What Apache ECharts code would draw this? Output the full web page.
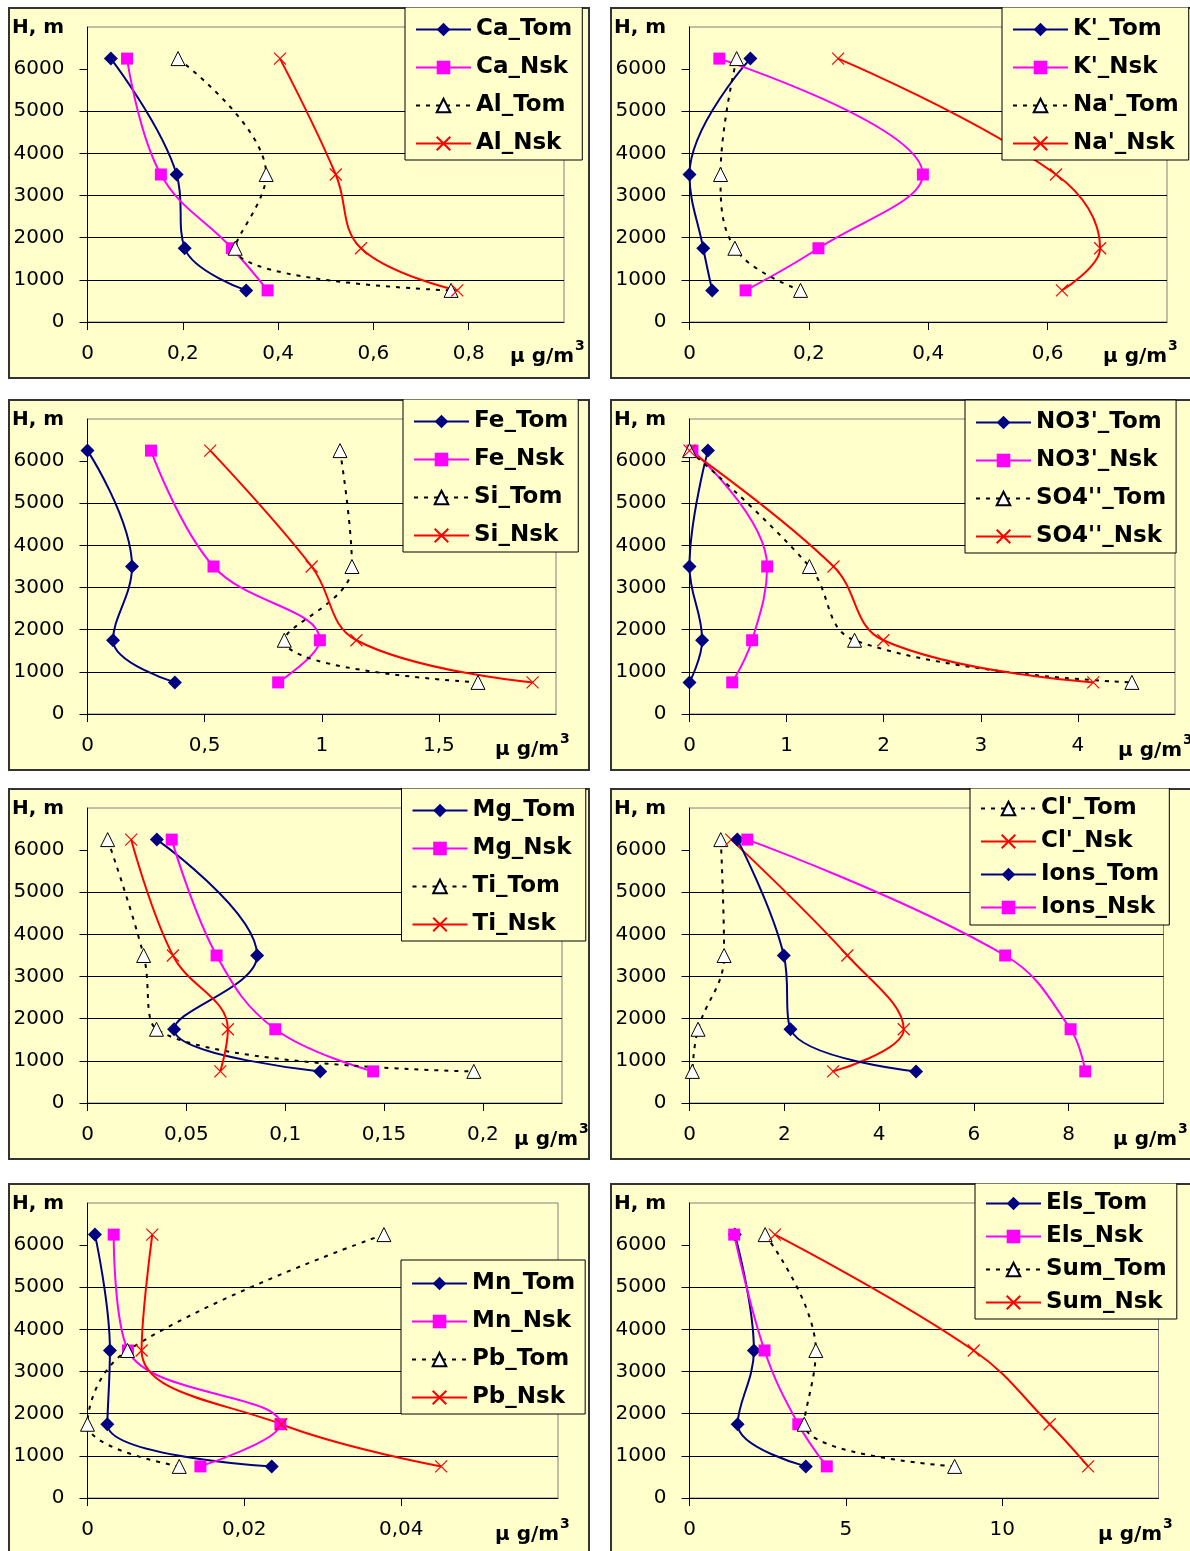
<!DOCTYPE html>
<html>
<head>
<meta charset="utf-8">
<script src="https://cdn.jsdelivr.net/npm/echarts@6/dist/echarts.min.js"></script>
<style>
  html, body { margin: 0; padding: 0; background: #fff; overflow: hidden; width: 1190px; height: 1551px; }
  .panel { position: absolute; background: #ffffcc; box-shadow: inset 0 0 0 2px #333; }
</style>
</head>
<body>
<div id="p1" class="panel" style="left:8px;top:7px;width:582px;height:372px"></div>
<div id="p2" class="panel" style="left:610px;top:7px;width:600px;height:372px"></div>
<div id="p3" class="panel" style="left:8px;top:399px;width:582px;height:372px"></div>
<div id="p4" class="panel" style="left:610px;top:399px;width:600px;height:372px"></div>
<div id="p5" class="panel" style="left:8px;top:788px;width:582px;height:372px"></div>
<div id="p6" class="panel" style="left:610px;top:788px;width:600px;height:372px"></div>
<div id="p7" class="panel" style="left:8px;top:1183px;width:582px;height:380px"></div>
<div id="p8" class="panel" style="left:610px;top:1183px;width:600px;height:380px"></div>
<script>
const heights = [6250, 3500, 1750, 750];
const yTicks = [0, 1000, 2000, 3000, 4000, 5000, 6000];

const caTom = [0.049, 0.187, 0.204, 0.333];
const caNsk = [0.083, 0.154, 0.303, 0.378];
const alTom = [0.190, 0.375, 0.310, 0.763];
const alNsk = [0.404, 0.521, 0.574, 0.776];

const kTom = [0.102, 0.000, 0.023, 0.038];
const kNsk = [0.050, 0.391, 0.216, 0.094];
const naTom = [0.079, 0.052, 0.076, 0.186];
const naNsk = [0.249, 0.614, 0.688, 0.624];

const feTom = [0.000, 0.190, 0.109, 0.373];
const feNsk = [0.271, 0.538, 0.992, 0.814];
const siTom = [1.078, 1.129, 0.840, 1.667];
const siNsk = [0.524, 0.957, 1.148, 1.900];

const no3Tom = [0.19, 0.00, 0.13, 0.00];
const no3Nsk = [0.03, 0.80, 0.645, 0.44];
const so4Tom = [0.00, 1.235, 1.70, 4.556];
const so4Nsk = [0.00, 1.483, 1.996, 4.158];

const mgTom = [0.0351, 0.0858, 0.0438, 0.1177];
const mgNsk = [0.0426, 0.0653, 0.0950, 0.1445];
const tiTom = [0.0102, 0.0284, 0.0349, 0.1954];
const tiNsk = [0.0221, 0.0432, 0.0710, 0.0672];

const clTom = [0.66, 0.73, 0.18, 0.06];
const clNsk = [0.88, 3.33, 4.52, 3.03];
const ionsTom = [1.01, 1.99, 2.13, 4.78];
const ionsNsk = [1.22, 6.66, 8.04, 8.35];

const mnTom = [0.00095, 0.00286, 0.00253, 0.0235];
const mnNsk = [0.00334, 0.00516, 0.0246, 0.0144];
const pbTom = [0.0378, 0.0051, 0.0000, 0.0117];
const pbNsk = [0.00826, 0.0069, 0.0247, 0.0451];

const elsTom = [1.45, 2.06, 1.54, 3.72];
const elsNsk = [1.43, 2.40, 3.48, 4.39];
const sumTom = [2.42, 4.04, 3.67, 8.48];
const sumNsk = [2.73, 9.09, 11.52, 12.75];

const xTicks1 = [0, 0.2, 0.4, 0.6, 0.8];
const xTicks2 = [0, 0.2, 0.4, 0.6];
const xTicks3 = [0, 0.5, 1, 1.5];
const xTicks4 = [0, 1, 2, 3, 4];
const xTicks5 = [0, 0.05, 0.1, 0.15, 0.2];
const xTicks6 = [0, 2, 4, 6, 8];
const xTicks7 = [0, 0.02, 0.04];
const xTicks8 = [0, 5, 10];

const FONT = '"DejaVu Sans", sans-serif';

const styles = {
  tom: { color: '#000080', symbol: 'diamond', size: 14, type: 'solid', fill: '#000080', border: '#000080', bw: 0 },
  nsk: { color: '#ff00ff', symbol: 'rect', size: 12, type: 'solid', fill: '#ff00ff', border: '#ff00ff', bw: 0 },
  dash: { color: '#000000', symbol: 'triangle', size: 14, type: [4, 6], fill: '#ffffff', border: '#000000', bw: 1 },
  red: { color: '#ff0000', symbol: 'path://M0,0L10,10M0,10L10,0', size: 12, type: 'solid', fill: 'none', border: '#ff0000', bw: 1.2 }
};

function makeSeries(name, xs, kind) {
  const s = styles[kind];
  return {
    name: name,
    type: 'line',
    smooth: 0.4,
    data: xs.map((x, i) => [x, heights[i]]),
    symbol: s.symbol,
    symbolSize: s.size,
    showAllSymbol: true,
    lineStyle: { color: s.color, width: 2, type: s.type },
    itemStyle: { color: s.fill, borderColor: s.border, borderWidth: s.bw },
    emphasis: { disabled: true }
  };
}

function fmt(v) {
  return String(+v.toFixed(4)).replace('.', ',');
}

function buildPanel(id, cfg) {
  const chart = echarts.init(document.getElementById(id));
  const unit = cfg.unit;
  chart.setOption({
    animation: false,
    grid: {
      left: 79.5, top: 20, width: cfg.plotW, height: 295,
      show: true, borderColor: '#808080', borderWidth: 1, backgroundColor: 'transparent'
    },
    xAxis: {
      type: 'value', min: 0, max: cfg.xMax, interval: cfg.xInterval,
      axisLine: { show: true, onZero: false, lineStyle: { color: '#000', width: 1 } },
      axisTick: { show: true, inside: false, length: 8, customValues: cfg.xTicks, lineStyle: { color: '#000' } },
      axisLabel: { customValues: cfg.xTicks, margin: 22, formatter: fmt, color: '#000', fontFamily: FONT, fontSize: 20 },
      splitLine: { show: false }
    },
    yAxis: {
      type: 'value', min: 0, max: 7000, interval: 1000,
      axisLine: { show: true, lineStyle: { color: '#000', width: 1 } },
      axisTick: { show: true, inside: false, length: 8, customValues: yTicks, lineStyle: { color: '#000' } },
      axisLabel: { customValues: yTicks, margin: 23, formatter: v => String(Math.round(v)), color: '#000', fontFamily: FONT, fontSize: 20 },
      splitLine: { show: true, showMaxLine: false, lineStyle: { color: '#000', width: 1 } }
    },
    legend: {
      orient: 'vertical',
      left: cfg.legendLeft, top: cfg.legendTop,
      data: cfg.series.map(s => s.name),
      itemWidth: 55, itemHeight: 17, itemGap: cfg.legendGap,
      padding: cfg.legendPad,
      backgroundColor: '#ffffcc', borderColor: '#000', borderWidth: 1,
      selectedMode: false,
      textStyle: { color: '#000', fontFamily: FONT, fontWeight: 'bold', fontSize: 23 }
    },
    graphic: [
      { type: 'text', x: 4, y: 21, style: { text: 'H, m', fill: '#000', font: 'bold 20px ' + FONT, verticalAlign: 'middle' } },
      { type: 'text', x: unit[0], y: unit[1], style: { text: 'µ g/m', fill: '#000', font: 'bold 20px ' + FONT, verticalAlign: 'middle' } },
      { type: 'text', x: unit[0] + 65, y: unit[1] - 11, style: { text: '3', fill: '#000', font: 'bold 14px ' + FONT, verticalAlign: 'middle' } }
    ],
    series: cfg.series
  });
  return chart;
}

buildPanel('p1', {
  plotW: 476.5, xMax: 1, xInterval: 0.2, xTicks: xTicks1, unit: [502, 350],
  legendLeft: 397, legendTop: 0, legendGap: 15, legendPad: [11, 10, 5, 10],
  series: [
    makeSeries('Ca_Tom', caTom, 'tom'),
    makeSeries('Ca_Nsk', caNsk, 'nsk'),
    makeSeries('Al_Tom', alTom, 'dash'),
    makeSeries('Al_Nsk', alNsk, 'red')
  ]
});

buildPanel('p2', {
  plotW: 477.5, xMax: 0.8, xInterval: 0.2, xTicks: xTicks2, unit: [493, 350],
  legendLeft: 392, legendTop: 0, legendGap: 15, legendPad: [11, 10, 5, 10],
  series: [
    makeSeries("K'_Tom", kTom, 'tom'),
    makeSeries("K'_Nsk", kNsk, 'nsk'),
    makeSeries("Na'_Tom", naTom, 'dash'),
    makeSeries("Na'_Nsk", naNsk, 'red')
  ]
});

buildPanel('p3', {
  plotW: 468.5, xMax: 2, xInterval: 0.5, xTicks: xTicks3, unit: [487, 351],
  legendLeft: 395, legendTop: 0, legendGap: 15, legendPad: [11, 10, 5, 10],
  series: [
    makeSeries('Fe_Tom', feTom, 'tom'),
    makeSeries('Fe_Nsk', feNsk, 'nsk'),
    makeSeries('Si_Tom', siTom, 'dash'),
    makeSeries('Si_Nsk', siNsk, 'red')
  ]
});

buildPanel('p4', {
  plotW: 485.5, xMax: 5, xInterval: 1, xTicks: xTicks4, unit: [508, 352],
  legendLeft: 355, legendTop: 1, legendGap: 15, legendPad: [11, 10, 5, 10],
  series: [
    makeSeries("NO3'_Tom", no3Tom, 'tom'),
    makeSeries("NO3'_Nsk", no3Nsk, 'nsk'),
    makeSeries("SO4''_Tom", so4Tom, 'dash'),
    makeSeries("SO4''_Nsk", so4Nsk, 'red')
  ]
});

buildPanel('p5', {
  plotW: 474.5, xMax: 0.24, xInterval: 0.05, xTicks: xTicks5, unit: [506, 352],
  legendLeft: 393.5, legendTop: 0, legendGap: 15, legendPad: [11, 10, 5, 10],
  series: [
    makeSeries('Mg_Tom', mgTom, 'tom'),
    makeSeries('Mg_Nsk', mgNsk, 'nsk'),
    makeSeries('Ti_Tom', tiTom, 'dash'),
    makeSeries('Ti_Nsk', tiNsk, 'red')
  ]
});

buildPanel('p6', {
  plotW: 474, xMax: 10, xInterval: 2, xTicks: xTicks6, unit: [503, 352],
  legendLeft: 360, legendTop: 0, legendGap: 10, legendPad: [9, 10, 6, 10],
  series: [
    makeSeries("Cl'_Tom", clTom, 'dash'),
    makeSeries("Cl'_Nsk", clNsk, 'red'),
    makeSeries('Ions_Tom', ionsTom, 'tom'),
    makeSeries('Ions_Nsk', ionsNsk, 'nsk')
  ]
});

buildPanel('p7', {
  plotW: 470.5, xMax: 0.06, xInterval: 0.02, xTicks: xTicks7, unit: [487, 352],
  legendLeft: 393, legendTop: 77, legendGap: 15, legendPad: [12, 10, 5, 10],
  series: [
    makeSeries('Mn_Tom', mnTom, 'tom'),
    makeSeries('Mn_Nsk', mnNsk, 'nsk'),
    makeSeries('Pb_Tom', pbTom, 'dash'),
    makeSeries('Pb_Nsk', pbNsk, 'red')
  ]
});

buildPanel('p8', {
  plotW: 469, xMax: 15, xInterval: 5, xTicks: xTicks8, unit: [488, 352],
  legendLeft: 365, legendTop: 0, legendGap: 10, legendPad: [9, 10, 5, 10],
  series: [
    makeSeries('Els_Tom', elsTom, 'tom'),
    makeSeries('Els_Nsk', elsNsk, 'nsk'),
    makeSeries('Sum_Tom', sumTom, 'dash'),
    makeSeries('Sum_Nsk', sumNsk, 'red')
  ]
});
</script>
</body>
</html>
